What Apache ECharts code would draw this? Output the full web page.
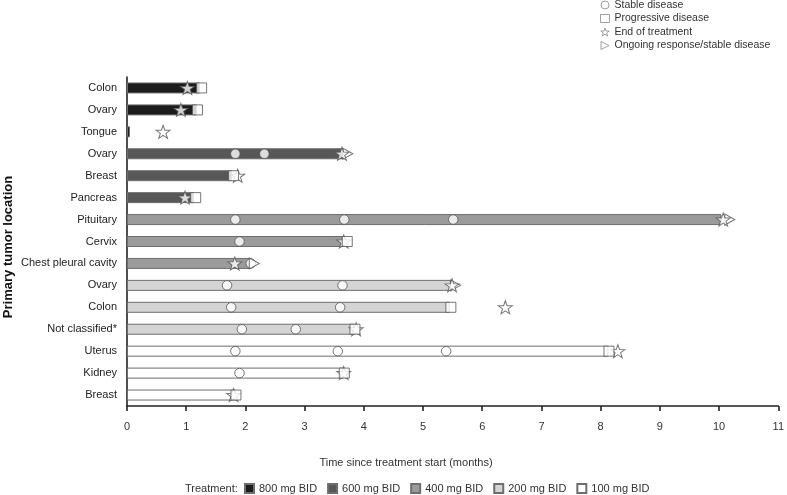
<!DOCTYPE html>
<html>
<head>
<meta charset="utf-8">
<script src="https://cdn.jsdelivr.net/npm/echarts@6/dist/echarts.min.js"></script>
<style>
html,body{margin:0;padding:0;background:#fff;}
#chart{width:787px;height:495px;}
</style>
</head>
<body>
<div id="chart"></div>
<script>
// ---- data ----
const tumors = ['Colon','Ovary','Tongue','Ovary','Breast','Pancreas','Pituitary','Cervix','Chest pleural cavity','Ovary','Colon','Not classified*','Uterus','Kidney','Breast'];
const doses = ['800 mg BID','600 mg BID','400 mg BID','200 mg BID','100 mg BID'];
const doseOfRow = [0,0,0,1,1,1,2,2,2,3,3,3,4,4,4];
const treatmentMonths = [1.23,1.18,0.05,3.66,1.77,1.13,10.04,3.68,2.1,5.47,5.45,3.84,8.13,3.66,1.83];
// [months, row]
const stableDisease = [[1.83,3],[2.32,3],[1.83,6],[3.67,6],[5.51,6],[1.90,7],[2.09,8],[1.69,9],[3.64,9],[1.76,10],[3.60,10],[1.94,11],[2.85,11],[1.83,12],[3.56,12],[5.39,12],[1.90,13]];
const progressiveDisease = [[1.26,0],[1.19,1],[1.80,4],[1.16,5],[3.72,7],[5.47,10],[3.85,11],[8.14,12],[3.67,13],[1.84,14]];
const endOfTreatment = [[1.02,0],[0.91,1],[0.61,2],[3.63,3],[1.87,4],[0.98,5],[10.07,6],[3.66,7],[1.82,8],[5.49,9],[6.39,10],[3.87,11],[8.29,12],[3.66,13],[1.80,14]];
const ongoingResponse = [[3.73,3],[10.18,6],[2.15,8],[5.55,9]];
const xTicks = [0,1,2,3,4,5,6,7,8,9,10,11];

const doseColors = ['#1c1c1c','#575757','#9b9b9b','#d4d4d4','#ffffff'];
const FONT = '"Liberation Sans", Arial, Helvetica, sans-serif';
const STAR = 'path://M50,0L61.76,33.82L97.55,34.55L69.02,56.18L79.39,90.45L50,70L20.61,90.45L30.98,56.18L2.45,34.55L38.24,33.82Z';
const TRI = 'path://M0,0L10,5L0,10Z';

const barSeries = doses.map((d, k) => ({
  name: d,
  type: 'bar',
  barWidth: 11,
  barGap: '-100%',
  itemStyle: { color: doseColors[k], borderColor: '#6e6e6e', borderWidth: 1 },
  data: treatmentMonths.map((v, i) => [v, i]).filter((p, i) => doseOfRow[i] === k),
  encode: { x: 0, y: 1 },
  z: 2,
  silent: true
}));

const markerStyle = { color: '#ffffff', borderColor: '#555555', borderWidth: 1 };
const scatterSeries = [
  { name: 'Stable disease', symbol: 'circle', symbolSize: 9.5, data: stableDisease, z: 3 },
  { name: 'Ongoing response/stable disease', symbol: TRI, symbolSize: [10, 11], data: ongoingResponse, z: 4 },
  { name: 'End of treatment', symbol: STAR, symbolSize: [14, 13], data: endOfTreatment, z: 5 },
  { name: 'Progressive disease', symbol: 'rect', symbolSize: 10, data: progressiveDisease, z: 6 }
].map(s => Object.assign({ type: 'scatter', itemStyle: markerStyle, silent: true, encode: { x: 0, y: 1 } }, s));

const chart = echarts.init(document.getElementById('chart'), null, { renderer: 'canvas' });
chart.setOption({
  animation: false,
  backgroundColor: '#ffffff',
  textStyle: { fontFamily: FONT },
  grid: { left: 127, right: 4, top: 77, bottom: 89, containLabel: false },
  xAxis: {
    type: 'value', min: 0, max: 11, interval: 1,
    axisLine: { show: true, lineStyle: { color: '#222', width: 1.6 } },
    axisTick: { show: true, inside: false, length: 5, lineStyle: { color: '#222', width: 1.6 } },
    axisLabel: { fontSize: 11, color: '#333', margin: 15, fontFamily: FONT,
      formatter: v => xTicks.includes(v) ? String(v) : '' },
    splitLine: { show: false }
  },
  yAxis: {
    type: 'category', inverse: true,
    data: tumors.map((t, i) => String(i)),
    axisLine: { show: true, lineStyle: { color: '#222', width: 1.6 } },
    axisTick: { show: false },
    axisLabel: { fontSize: 11, color: '#222', margin: 10, fontFamily: FONT,
      formatter: v => tumors[+v], interval: 0 },
    splitLine: { show: false }
  },
  legend: [
    {
      data: doses.map(d => ({ name: d, icon: 'rect' })),
      left: 244, top: 483, padding: 0,
      itemWidth: 9, itemHeight: 9, itemGap: 10,
      textStyle: { fontSize: 11, color: '#333', fontFamily: FONT },
      selectedMode: false
    },
    {
      data: [
        { name: 'Stable disease', icon: 'circle' },
        { name: 'Progressive disease', icon: 'rect' },
        { name: 'End of treatment', icon: STAR },
        { name: 'Ongoing response/stable disease', icon: TRI }
      ],
      orient: 'vertical', left: 600, top: -1, padding: 0,
      itemWidth: 9, itemHeight: 8, itemGap: 1.5,
      itemStyle: { color: '#ffffff', borderColor: '#888', borderWidth: 1 },
      textStyle: { fontSize: 10.5, lineHeight: 12, color: '#333', fontFamily: FONT },
      selectedMode: false
    }
  ],
  graphic: [
    { type: 'text', x: 406, y: 463,
      style: { text: 'Time since treatment start (months)', font: '11px ' + FONT, fill: '#333', textAlign: 'center', textVerticalAlign: 'middle' } },
    { type: 'text', x: 8, y: 247, rotation: Math.PI / 2,
      style: { text: 'Primary tumor location', font: 'bold 13px ' + FONT, fill: '#111', textAlign: 'center', textVerticalAlign: 'middle' } },
    { type: 'text', x: 185, y: 489,
      style: { text: 'Treatment:', font: '11px ' + FONT, fill: '#333', textAlign: 'left', textVerticalAlign: 'middle' } }
  ],
  series: barSeries.concat(scatterSeries)
});
</script>
</body>
</html>
